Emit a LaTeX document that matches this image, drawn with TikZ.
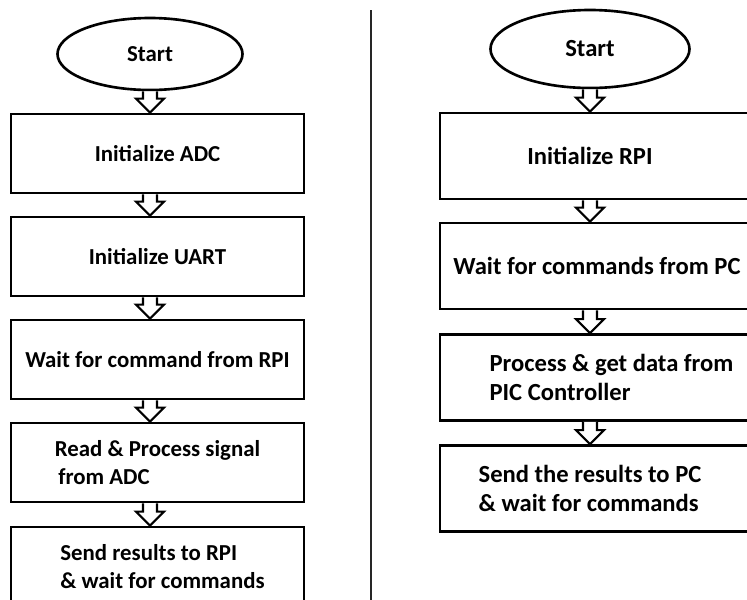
\documentclass[tikz,border=0pt]{standalone}
\usepackage{fontspec}
\setmainfont{Carlito}
\usepackage{tikz}
\usetikzlibrary{shapes.geometric,calc}

\newcommand{\hollowarrow}[3]{%
	\draw[flowarrow] ($(#1 |- #2.south)+(-0.14,0)$) -- ($(#1 |- #3.north)+(-0.14,0.28)$)
	-- ($(#1 |- #3.north)+(-0.28,0.28)$) -- (#1 |- #3.north)
	-- ($(#1 |- #3.north)+(0.28,0.28)$) -- ($(#1 |- #3.north)+(0.14,0.28)$)
	-- ($(#1 |- #2.south)+(0.14,0)$);}

\begin{document}
\begin{tikzpicture}[
	lefttext/.style={font=\bfseries\fontsize{13}{16}\selectfont},
	righttext/.style={font=\bfseries\fontsize{14}{17}\selectfont},
	startnode/.style={draw, ellipse, line width=1.5pt, inner sep=0pt},
	stepbox/.style={draw, rectangle, line width=1.6pt, inner sep=0pt},
	leftbox/.style={stepbox, lefttext, minimum width=5.86cm, minimum height=1.58cm},
	rightbox/.style={stepbox, righttext, minimum width=6.4cm, minimum height=1.72cm},
	flowarrow/.style={draw, fill=white, line width=1.2pt, line join=miter}]
	\useasboundingbox (0,0) rectangle (14.94,-12);
	\clip (0,0) rectangle (14.94,-12);
	\coordinate (laxis) at (3.0,0);
	\coordinate (raxis) at (11.8,0);
	\draw[line width=0.6pt, black!85] (7.42,-0.2) -- (7.42,-12);
	
	\node[startnode, lefttext, minimum width=3.7cm, minimum height=1.44cm] (lstart) at (3.0,-1.08) {Start};
	\node[leftbox] (adc) at (3.15,-3.07) {Initialize ADC};
	\node[leftbox] (uart) at (3.15,-5.13) {Initialize UART};
	\node[leftbox] (lwait) at (3.15,-7.19) {Wait for command from RPI};
	\node[leftbox, align=left] (read) at (3.15,-9.25) {Read \& Process signal\\\hspace*{2pt}from ADC};
	\node[leftbox, align=left] (lsend) at (3.15,-11.33) {\hspace*{0.2cm}Send results to RPI\\\hspace*{0.2cm}\& wait for commands};
	\hollowarrow{laxis}{lstart}{adc}
	\hollowarrow{laxis}{adc}{uart}
	\hollowarrow{laxis}{uart}{lwait}
	\hollowarrow{laxis}{lwait}{read}
	\hollowarrow{laxis}{read}{lsend}
	
	\node[startnode, righttext, minimum width=3.98cm, minimum height=1.56cm] (rstart) at (11.8,-0.98) {Start};
	\node[rightbox] (rpi) at (12.0,-3.12) {Initialize RPI\hspace*{0.4cm}};
	\node[rightbox] (rwait) at (12.0,-5.32) {Wait for commands from PC\hspace*{0.12cm}};
	\node[rightbox, align=left] (process) at (12.0,-7.55) {\hspace*{0.46cm}Process \& get data from\\\hspace*{0.46cm}PIC Controller};
	\node[rightbox, align=left] (rsend) at (12.0,-9.77) {Send the results to PC\hspace*{0.4cm}\\\& wait for commands};
	\hollowarrow{raxis}{rstart}{rpi}
	\hollowarrow{raxis}{rpi}{rwait}
	\hollowarrow{raxis}{rwait}{process}
	\hollowarrow{raxis}{process}{rsend}
\end{tikzpicture}
\end{document}
